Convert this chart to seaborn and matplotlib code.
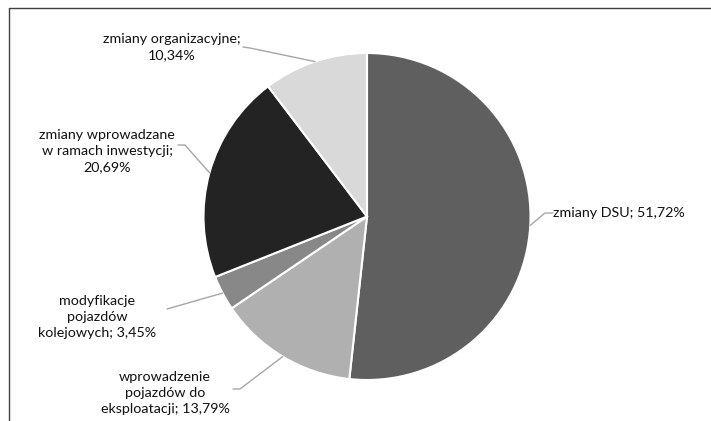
import numpy as np
import matplotlib
matplotlib.use('Agg')
import matplotlib.pyplot as plt
from matplotlib.lines import Line2D
import seaborn as sns

# data
categories = ['zmiany DSU', 'wprowadzenie\npojazdów do\neksploatacji',
              'modyfikacje\npojazdów\nkolejowych', 'zmiany wprowadzane\nw ramach inwestycji',
              'zmiany organizacyjne']
shares = [51.72, 13.79, 3.45, 20.69, 10.34]
label_texts = ['zmiany DSU; 51,72%',
               'wprowadzenie\npojazdów do\neksploatacji; 13,79%',
               'modyfikacje\npojazdów\nkolejowych; 3,45%',
               'zmiany wprowadzane\nw ramach inwestycji;\n20,69%',
               'zmiany organizacyjne;\n10,34%']
slice_colors = ['#5f5f5f', '#b0b0b0', '#888888', '#232323', '#d9d9d9']

W, H = 711, 421
sns.set_theme(style='white')
plt.rcParams['font.family'] = ['Lato', 'DejaVu Sans']

fig = plt.figure(figsize=(W / 100, H / 100), dpi=100)
cx, cy, r = 367, 216.5, 163.5
ax = fig.add_axes([(cx - r) / W, (H - cy - r) / H, 2 * r / W, 2 * r / H])

palette = sns.color_palette(slice_colors)
wedges, _ = ax.pie(shares, colors=palette, startangle=90, counterclock=False,
                   radius=1, wedgeprops=dict(edgecolor='white', linewidth=1.5))
ax.set_xlim(-1, 1)
ax.set_ylim(-1, 1)
ax.axis('off')


def px(x, y):
    return ((x - cx) / r, (cy - y) / r)


# label layout in pixels: text anchor, ha, elbow points
layout = [
    dict(text=(553, 213), ha='left', path=[(545, 213), (553, 213)]),
    dict(text=(165, 393), ha='center', path=[(240, 389), (233, 389)]),
    dict(text=(97, 317), ha='center', path=[(167, 309)]),
    dict(text=(107, 151), ha='center', path=[(185, 145), (178, 145)]),
    dict(text=(172, 47.5), ha='center', path=[(250, 48), (243, 47)]),
]

for w, txt, lay in zip(wedges, label_texts, layout):
    mid = np.deg2rad((w.theta1 + w.theta2) / 2)
    start = (np.cos(mid), np.sin(mid))
    pts = [start] + [px(*p) for p in lay['path']]
    xs, ys = zip(*pts)
    ax.plot(xs, ys, color='#a6a6a6', lw=1, clip_on=False)
    tx, ty = px(*lay['text'])
    ax.text(tx, ty, txt, ha=lay['ha'], va='center', fontsize=10.3,
            color='#111111', linespacing=1.42, clip_on=False)

# chart frame (cropped at right and bottom)
fig.add_artist(Line2D([9 / W, 1], [1 - 8 / H, 1 - 8 / H], color='#404040', lw=1))
fig.add_artist(Line2D([9 / W, 9 / W], [0, 1 - 8 / H], color='#404040', lw=1))

fig.savefig('out.png', dpi=100)
